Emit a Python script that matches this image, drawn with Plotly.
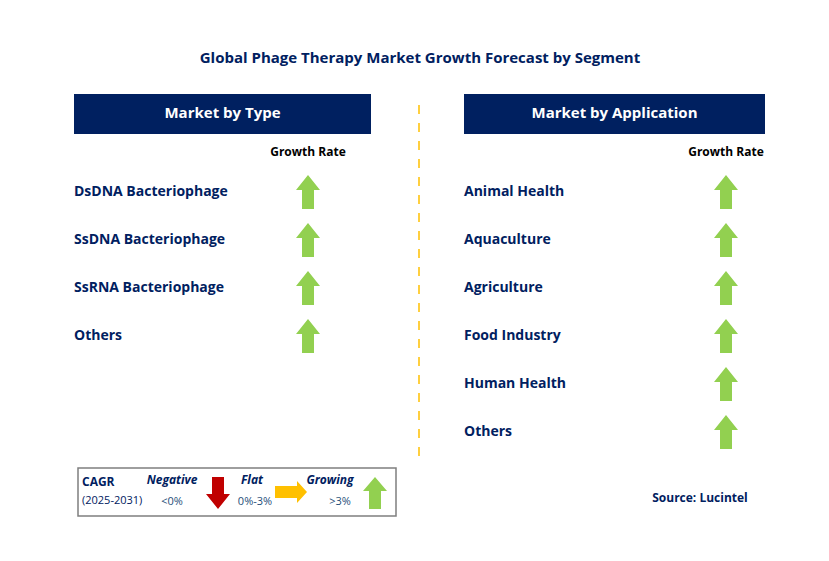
import plotly.graph_objects as go

title = "Global Phage Therapy Market Growth Forecast by Segment"
type_header = "Market by Type"
app_header = "Market by Application"
type_items = ["DsDNA Bacteriophage", "SsDNA Bacteriophage", "SsRNA Bacteriophage", "Others"]
app_items = ["Animal Health", "Aquaculture", "Agriculture", "Food Industry", "Human Health", "Others"]
type_growth = ["up", "up", "up", "up"]
app_growth = ["up", "up", "up", "up", "up", "up"]
source = "Source: Lucintel"

NAVY = "#002060"
GREEN = "#92D050"
FONT = "Open Sans"

fig = go.Figure()
shapes = []

def arrow_path(cx, cy, direction, w=24, sw=12, h=34, hh=15):
    t, b = cy - h / 2, cy + h / 2
    if direction == "up":
        pts = [(cx, t), (cx + w/2, t + hh), (cx + sw/2, t + hh), (cx + sw/2, b),
               (cx - sw/2, b), (cx - sw/2, t + hh), (cx - w/2, t + hh)]
    elif direction == "down":
        pts = [(cx, b), (cx + w/2, b - hh), (cx + sw/2, b - hh), (cx + sw/2, t),
               (cx - sw/2, t), (cx - sw/2, b - hh), (cx - w/2, b - hh)]
    else:  # right
        l, r = cx - h/2, cx + h/2
        pts = [(r, cy), (r - hh, cy - w/2), (r - hh, cy - sw/2), (l, cy - sw/2),
               (l, cy + sw/2), (r - hh, cy + sw/2), (r - hh, cy + w/2)]
    return "M " + " L ".join(f"{x},{y}" for x, y in pts) + " Z"

colors = {"up": GREEN, "down": "#C00000", "right": "#FFC000"}

def panel(x0, x1, header, items, growth, label_x, arrow_x):
    shapes.append(dict(type="rect", x0=x0, x1=x1, y0=92, y1=132, fillcolor=NAVY, line_width=0, layer="below"))
    fig.add_trace(go.Scatter(x=[(x0 + x1) / 2], y=[112], text=[header], mode="text",
                             textfont=dict(color="white", size=15, family=FONT), textposition="middle center"))
    fig.add_trace(go.Scatter(x=[arrow_x], y=[151], text=["<b>Growth Rate</b>"], mode="text",
                             textfont=dict(color="black", size=12, family=FONT), textposition="middle center"))
    ys = [190 + 48 * i for i in range(len(items))]
    fig.add_trace(go.Scatter(x=[label_x] * len(items), y=ys, text=[f"<b>{t}</b>" for t in items], mode="text",
                             textfont=dict(color=NAVY, size=14, family=FONT), textposition="middle right"))
    for y, g in zip(ys, growth):
        shapes.append(dict(type="path", path=arrow_path(arrow_x, y, g), fillcolor=colors[g], line_width=0))

panel(74, 371, "<b>Market by Type</b>", type_items, type_growth, 74, 308)
panel(464, 765, "<b>Market by Application</b>", app_items, app_growth, 464, 726)

fig.add_trace(go.Scatter(x=[420], y=[57], text=[f"<b>{title}</b>"], mode="text",
                         textfont=dict(color=NAVY, size=15, family=FONT), textposition="middle center"))
shapes.append(dict(type="line", x0=419, x1=419, y0=103, y1=460, line=dict(color="#FFC000", width=1.5, dash="dash")))

# legend box
shapes.append(dict(type="rect", x0=78, x1=396, y0=466, y1=514, line=dict(color="#7F7F7F", width=1.5)))
leg = [(82, 481, "<b>CAGR</b>", NAVY, 12, "middle right"),
       (82, 499, "(2025-2031)", NAVY, 11, "middle right"),
       (172, 479, "<b><i>Negative</i></b>", NAVY, 12, "middle center"),
       (172, 500, "<0%", "#1F4E79", 11, "middle center"),
       (252, 479, "<b><i>Flat</i></b>", NAVY, 12, "middle center"),
       (255, 500, "0%-3%", "#1F4E79", 11, "middle center"),
       (330, 479, "<b><i>Growing</i></b>", NAVY, 12, "middle center"),
       (340, 500, ">3%", "#1F4E79", 11, "middle center")]
for x, y, t, c, s, p in leg:
    fig.add_trace(go.Scatter(x=[x], y=[y], text=[t], mode="text",
                             textfont=dict(color=c, size=s, family=FONT), textposition=p))
shapes.append(dict(type="path", path=arrow_path(218, 491, "down", w=24, sw=12, h=32, hh=15), fillcolor="#C00000", line_width=0))
shapes.append(dict(type="path", path=arrow_path(291, 490, "right", w=22, sw=12, h=32, hh=10), fillcolor="#FFC000", line_width=0))
shapes.append(dict(type="path", path=arrow_path(375, 491, "up", w=24, sw=12, h=32, hh=14), fillcolor=GREEN, line_width=0))

fig.add_trace(go.Scatter(x=[700], y=[497], text=[f"<b>{source}</b>"], mode="text",
                         textfont=dict(color=NAVY, size=12, family=FONT), textposition="middle center"))

fig.update_layout(width=829, height=561, margin=dict(l=0, r=0, t=0, b=0), showlegend=False,
                  plot_bgcolor="white", paper_bgcolor="white", shapes=shapes,
                  xaxis=dict(range=[8, 837], visible=False, fixedrange=True),
                  yaxis=dict(range=[567, 6], visible=False, fixedrange=True))
fig.write_html("out.html", config={"displayModeBar": False})
